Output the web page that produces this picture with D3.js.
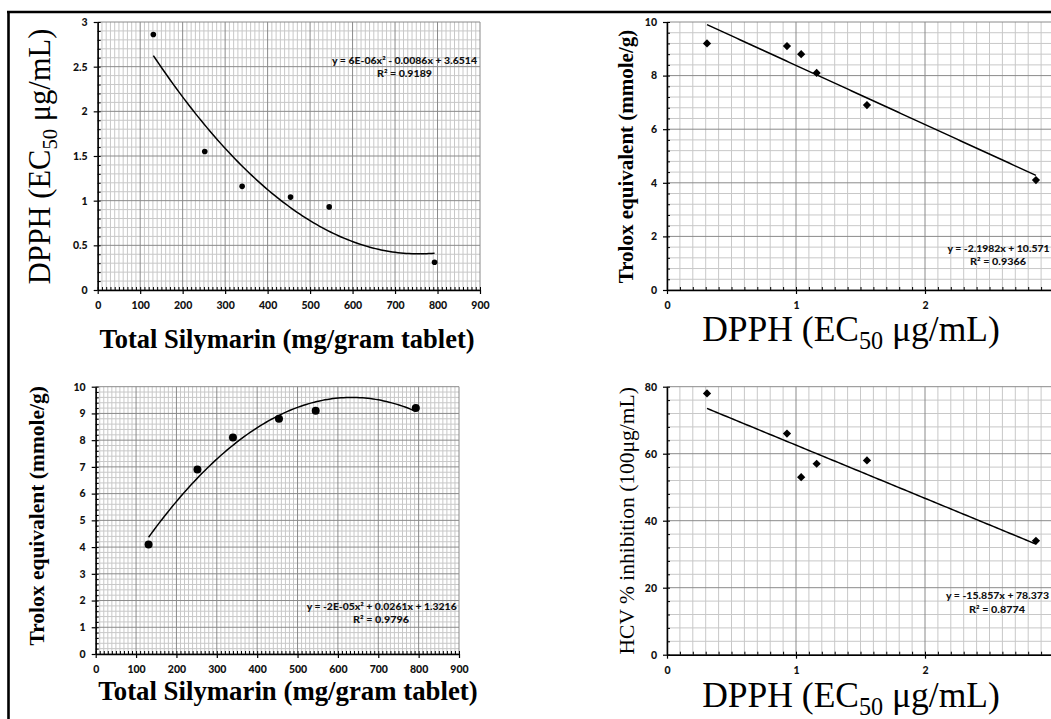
<!DOCTYPE html>
<html><head><meta charset="utf-8">
<script src="https://cdn.jsdelivr.net/npm/d3@7"></script>
<style>body{margin:0;background:#fff}svg{display:block}</style>
</head><body><svg id="c" width="1051" height="719"></svg>
<script>
// ---- data ----
const silymarin = [131, 252, 340, 454, 545, 793];
const dpph      = [2.86, 1.55, 1.16, 1.04, 0.93, 0.31];
const trolox    = [4.1, 6.9, 8.1, 8.8, 9.1, 9.2];
const hcv       = [34, 58, 57, 53, 66, 78];

const silyTicks    = [0, 100, 200, 300, 400, 500, 600, 700, 800, 900];
const dpphXTicks   = [0, 1, 2, 3];
const dpphYTicks   = [0, 0.5, 1, 1.5, 2, 2.5, 3];
const trolox10Ticks= [0, 1, 2, 3, 4, 5, 6, 7, 8, 9, 10];
const trolox2Ticks = [0, 2, 4, 6, 8, 10];
const hcvTicks     = [0, 20, 40, 60, 80];

const eqP1 = ["y = 6E-06x² - 0.0086x + 3.6514", "R² = 0.9189"];
const eqP2 = ["y = -2.1982x + 10.571", "R² = 0.9366"];
const eqP3 = ["y = -2E-05x² + 0.0261x + 1.3216", "R² = 0.9796"];
const eqP4 = ["y = -15.857x + 78.373", "R² = 0.8774"];

// ---- helpers ----
function polyfit(xs, ys, deg) {
  const n = deg + 1;
  const A = Array.from({length: n}, () => new Array(n + 1).fill(0));
  for (let i = 0; i < xs.length; i++) {
    for (let r = 0; r < n; r++) {
      for (let c = 0; c < n; c++) A[r][c] += Math.pow(xs[i], r + c);
      A[r][n] += ys[i] * Math.pow(xs[i], r);
    }
  }
  for (let i = 0; i < n; i++) {
    let p = i;
    for (let k = i + 1; k < n; k++) if (Math.abs(A[k][i]) > Math.abs(A[p][i])) p = k;
    [A[i], A[p]] = [A[p], A[i]];
    for (let k = i + 1; k < n; k++) {
      const f = A[k][i] / A[i][i];
      for (let c = i; c <= n; c++) A[k][c] -= f * A[i][c];
    }
  }
  const coef = new Array(n).fill(0);
  for (let i = n - 1; i >= 0; i--) {
    let s = A[i][n];
    for (let c = i + 1; c < n; c++) s -= A[i][c] * coef[c];
    coef[i] = s / A[i][i];
  }
  return v => coef.reduce((acc, a, k) => acc + a * Math.pow(v, k), 0);
}

const svg = d3.select('#c');
const tickFont = "Lato, 'Open Sans', sans-serif";
const serif = "'Liberation Serif', 'Times New Roman', serif";

function panel(cfg) {
  const g = svg.append('g');
  const x = d3.scaleLinear().domain(cfg.xDomain).range(cfg.xRange);
  const y = d3.scaleLinear().domain(cfg.yDomain).range(cfg.yRange);
  const eps = 1e-9;
  const onMajor = (v, ticks) => ticks.some(t => Math.abs(t - v) < 1e-6);
  const xMinor = d3.range(cfg.xDomain[0], cfg.xDomain[1] + eps, cfg.xMinor).map(v => +v.toFixed(6));
  const yMinor = d3.range(cfg.yDomain[0], cfg.yDomain[1] + eps, cfg.yMinor).map(v => +v.toFixed(6));
  const [y0, y1] = y.range(), [x0, x1] = x.range();

  // minor grid
  const mg = g.append('g').attr('stroke', '#c8c8c8').attr('stroke-width', 1);
  mg.selectAll('.vx').data(xMinor.filter(v => !onMajor(v, cfg.xTicks))).join('line')
    .attr('x1', d => x(d)).attr('x2', d => x(d)).attr('y1', y0).attr('y2', y1);
  mg.selectAll('.hy').data(yMinor.filter(v => !onMajor(v, cfg.yTicks))).join('line')
    .attr('y1', d => y(d)).attr('y2', d => y(d)).attr('x1', x0).attr('x2', x1);
  // major grid
  const Mg = g.append('g').attr('stroke', '#8a8a8a').attr('stroke-width', 1);
  Mg.selectAll('.vx').data(cfg.xTicks).join('line')
    .attr('x1', d => x(d)).attr('x2', d => x(d)).attr('y1', y0).attr('y2', y1);
  Mg.selectAll('.hy').data(cfg.yTicks).join('line')
    .attr('y1', d => y(d)).attr('y2', d => y(d)).attr('x1', x0).attr('x2', x1);

  // minor ticks (inside)
  g.append('g').attr('transform', `translate(0,${y0})`)
    .call(d3.axisBottom(x).tickValues(xMinor).tickSize(-3).tickFormat(''))
    .call(s => s.select('.domain').remove())
    .selectAll('line').attr('stroke', '#000').attr('stroke-width', 1);
  g.append('g').attr('transform', `translate(${x0},0)`)
    .call(d3.axisLeft(y).tickValues(yMinor).tickSize(-3).tickFormat(''))
    .call(s => s.select('.domain').remove())
    .selectAll('line').attr('stroke', '#000').attr('stroke-width', 1);

  // major axes
  const ax = g.append('g').attr('transform', `translate(0,${y0})`)
    .call(d3.axisBottom(x).tickValues(cfg.xTicks).tickSize(4).tickSizeOuter(0).tickPadding(7.5)
      .tickFormat(d3.format('~g')));
  const ay = g.append('g').attr('transform', `translate(${x0},0)`)
    .call(d3.axisLeft(y).tickValues(cfg.yTicks).tickSize(4).tickSizeOuter(0).tickPadding(6)
      .tickFormat(d3.format('~g')));
  [ax, ay].forEach(a => {
    a.select('.domain').attr('stroke', '#000').attr('stroke-width', 1.5);
    a.selectAll('.tick line').attr('stroke', '#000').attr('stroke-width', 1.2);
    a.selectAll('.tick text').attr('fill', '#111').attr('font-family', tickFont)
      .attr('font-weight', 900).attr('font-size', 10.5);
  });

  // trend line
  const f = polyfit(cfg.xs, cfg.ys, cfg.deg);
  const xmin = d3.min(cfg.xs), xmax = d3.max(cfg.xs);
  const samples = d3.range(0, 101).map(i => xmin + (xmax - xmin) * i / 100);
  g.append('path').datum(samples)
    .attr('d', d3.line().x(d => x(d)).y(d => y(f(d))))
    .attr('fill', 'none').attr('stroke', '#000').attr('stroke-width', 1.5);

  // points
  const pts = cfg.xs.map((v, i) => [v, cfg.ys[i]]);
  if (cfg.marker === 'circle') {
    g.append('g').selectAll('circle').data(pts).join('circle')
      .attr('cx', d => x(d[0])).attr('cy', d => y(d[1])).attr('r', cfg.r).attr('fill', '#000');
  } else {
    g.append('g').selectAll('path').data(pts).join('path')
      .attr('d', d3.symbol(d3.symbolSquare, 34))
      .attr('transform', d => `translate(${x(d[0])},${y(d[1])}) rotate(45)`)
      .attr('fill', '#000');
  }

  // equation
  cfg.eq.forEach((t, i) => {
    g.append('text').text(t)
      .attr('x', cfg.eqPos[i][0]).attr('y', cfg.eqPos[i][1])
      .attr('text-anchor', 'middle').attr('font-family', tickFont).attr('font-weight', 900)
      .attr('font-size', 10).attr('fill', '#111')
      .attr('textLength', cfg.eqLen[i]).attr('lengthAdjust', 'spacingAndGlyphs');
  });

  // axis titles
  function title(parts, px, py, rot, size, weight) {
    const t = g.append('text')
      .attr('transform', `translate(${px},${py})` + (rot ? ' rotate(-90)' : ''))
      .attr('text-anchor', 'middle').attr('font-family', serif)
      .attr('font-weight', weight).attr('font-size', size).attr('fill', '#000');
    parts.forEach(p => {
      const s = t.append('tspan').text(p.t);
      if (p.sub) s.attr('font-size', size * 0.68).attr('dy', size * 0.22);
      if (p.back) s.attr('dy', -size * 0.22);
    });
  }
  title(cfg.xTitle, cfg.xTitlePos[0], cfg.xTitlePos[1], false, cfg.xTitleSize, cfg.xTitleWeight);
  title(cfg.yTitle, cfg.yTitlePos[0], cfg.yTitlePos[1], true, cfg.yTitleSize, cfg.yTitleWeight);
}

const dpphTitle = [{t: 'DPPH (EC'}, {t: '50', sub: true}, {t: ' μg/mL)', back: true}];
const silyTitle = [{t: 'Total Silymarin (mg/gram tablet)'}];
const troloxTitle = [{t: 'Trolox equivalent (mmole/g)'}];
const hcvTitle = [{t: 'HCV % inhibition (100μg/mL)'}];

panel({
  xDomain: [0, 900], xRange: [97.7, 480], yDomain: [0, 3], yRange: [290, 22],
  xTicks: silyTicks, yTicks: dpphYTicks, xMinor: 10, yMinor: 0.1,
  xs: silymarin, ys: dpph, deg: 2, marker: 'circle', r: 2.8,
  eq: eqP1, eqPos: [[404.5, 64], [404.5, 77]], eqLen: [145, 55],
  xTitle: silyTitle, xTitlePos: [287, 348], xTitleSize: 26.5, xTitleWeight: 700,
  yTitle: dpphTitle, yTitlePos: [50, 156.5], yTitleSize: 30.5, yTitleWeight: 400
});
panel({
  xDomain: [0, 3], xRange: [667, 1054], yDomain: [0, 10], yRange: [290, 22],
  xTicks: dpphXTicks, yTicks: trolox2Ticks, xMinor: 0.1, yMinor: 0.4,
  xs: dpph, ys: trolox, deg: 1, marker: 'diamond',
  eq: eqP2, eqPos: [[998.5, 252], [998, 265]], eqLen: [102, 56],
  xTitle: dpphTitle, xTitlePos: [851, 341], xTitleSize: 35.5, xTitleWeight: 400,
  yTitle: troloxTitle, yTitlePos: [633, 156.5], yTitleSize: 21, yTitleWeight: 700
});
panel({
  xDomain: [0, 900], xRange: [95.7, 459], yDomain: [0, 10], yRange: [654, 386.7],
  xTicks: silyTicks, yTicks: trolox10Ticks, xMinor: 10, yMinor: 0.2,
  xs: silymarin, ys: trolox, deg: 2, marker: 'circle', r: 4,
  eq: eqP3, eqPos: [[381.7, 610], [381, 623]], eqLen: [150, 56],
  xTitle: silyTitle, xTitlePos: [288, 700], xTitleSize: 26.8, xTitleWeight: 700,
  yTitle: troloxTitle, yTitlePos: [43.5, 515.8], yTitleSize: 21.5, yTitleWeight: 700
});
panel({
  xDomain: [0, 3], xRange: [667, 1054], yDomain: [0, 80], yRange: [654.7, 386.7],
  xTicks: dpphXTicks, yTicks: hcvTicks, xMinor: 0.1, yMinor: 4,
  xs: dpph, ys: hcv, deg: 1, marker: 'diamond',
  eq: eqP4, eqPos: [[997.5, 599], [997, 612.7]], eqLen: [103, 56],
  xTitle: dpphTitle, xTitlePos: [851, 707], xTitleSize: 35.5, xTitleWeight: 400,
  yTitle: hcvTitle, yTitlePos: [634, 520.8], yTitleSize: 21.5, yTitleWeight: 400
});

// frame lines
svg.append('line').attr('x1', 7).attr('x2', 1051).attr('y1', 12).attr('y2', 12)
  .attr('stroke', '#000').attr('stroke-width', 2.4);
svg.append('line').attr('x1', 8.5).attr('x2', 8.5).attr('y1', 11).attr('y2', 719)
  .attr('stroke', '#000').attr('stroke-width', 2.6);
</script></body></html>
